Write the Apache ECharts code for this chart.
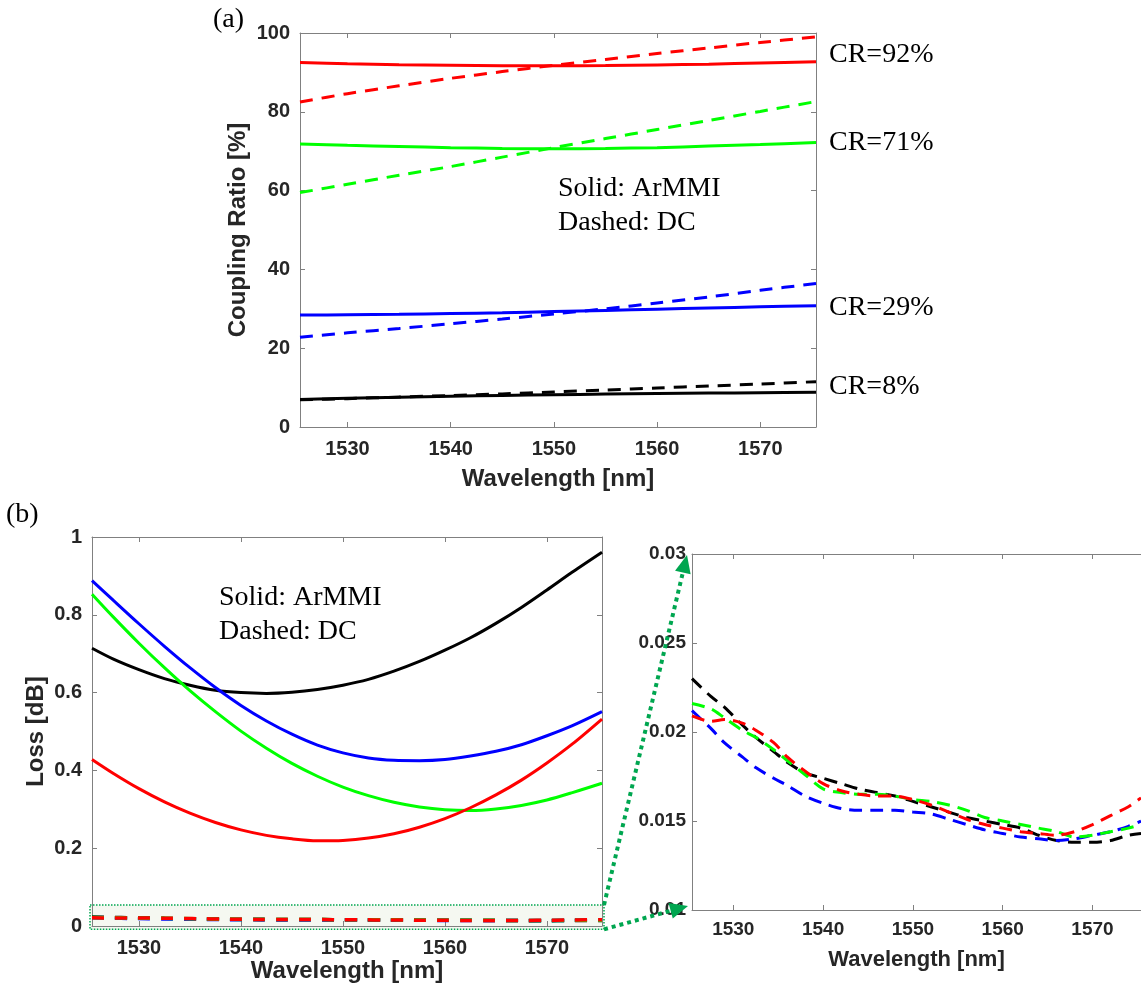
<!DOCTYPE html>
<html>
<head>
<meta charset="utf-8">
<script src="https://cdn.jsdelivr.net/npm/echarts@6/dist/echarts.min.js"></script>
<style>
html,body{margin:0;padding:0;background:#fff;}
#chart{width:1141px;height:993px;}
</style>
</head>
<body>
<div id="chart"></div>
<script>
// ---------- Panel (a): coupling ratio ----------
const wlA = [1525.4, 1530, 1535, 1540, 1545, 1550, 1555, 1560, 1565, 1570, 1575.4];
const crRedSolid    = [92.5, 92.2, 91.95, 91.8, 91.7, 91.7, 91.75, 91.9, 92.1, 92.4, 92.7];
const crRedDashed   = [82.5, 84.6, 86.6, 88.5, 90.2, 91.8, 93.3, 94.8, 96.2, 97.6, 99.0];
const crGreenSolid  = [71.8, 71.5, 71.2, 70.9, 70.7, 70.6, 70.7, 70.9, 71.3, 71.7, 72.2];
const crGreenDashed = [59.5, 61.6, 63.9, 66.1, 68.5, 70.9, 73.2, 75.5, 77.8, 80.1, 82.6];
const crBlueSolid   = [28.4, 28.5, 28.6, 28.8, 29.0, 29.3, 29.6, 29.9, 30.2, 30.5, 30.8];
const crBlueDashed  = [22.8, 23.9, 25.0, 26.2, 27.4, 28.7, 30.0, 31.5, 33.0, 34.7, 36.4];
const crBlackSolid  = [7.0, 7.3, 7.55, 7.8, 8.0, 8.2, 8.35, 8.5, 8.6, 8.7, 8.8];
const crBlackDashed = [6.9, 7.2, 7.6, 8.0, 8.4, 8.9, 9.4, 9.9, 10.4, 10.9, 11.5];

// ---------- Panel (b): loss, solid (ArMMI) ----------
const wlB = [1525.4, 1527.5, 1530, 1532.5, 1535, 1537.5, 1540, 1542.5, 1545, 1547.5, 1550,
             1552.5, 1555, 1557.5, 1560, 1562.5, 1565, 1567.5, 1570, 1572.5, 1575.4];
const lossBlack = [0.714, 0.686, 0.659, 0.636, 0.619, 0.606, 0.600, 0.598, 0.601, 0.608, 0.619,
                   0.634, 0.655, 0.680, 0.709, 0.741, 0.778, 0.819, 0.864, 0.910, 0.961];
const lossBlue  = [0.888, 0.837, 0.777, 0.719, 0.664, 0.613, 0.567, 0.527, 0.493, 0.465, 0.445,
                   0.432, 0.426, 0.425, 0.428, 0.437, 0.449, 0.466, 0.489, 0.515, 0.551];
const lossGreen = [0.853, 0.794, 0.727, 0.664, 0.605, 0.551, 0.501, 0.457, 0.418, 0.385, 0.357,
                   0.335, 0.318, 0.306, 0.299, 0.297, 0.301, 0.310, 0.324, 0.343, 0.367];
const lossRed   = [0.428, 0.392, 0.353, 0.319, 0.290, 0.266, 0.247, 0.233, 0.224, 0.219, 0.220,
                   0.226, 0.237, 0.254, 0.276, 0.304, 0.337, 0.375, 0.419, 0.468, 0.532];

// ---------- Loss, dashed (DC) ----------
const wlC = [1525.4, 1527.5, 1529, 1531, 1532.5, 1534.5, 1536, 1538, 1540, 1542, 1544, 1546, 1548,
             1550, 1552, 1554, 1556, 1558, 1560, 1562, 1564, 1566, 1568, 1570, 1572, 1574, 1575.4];
const dcBlack = [0.0230, 0.0220, 0.0214, 0.0204, 0.0197, 0.0189, 0.0183, 0.0177, 0.0174, 0.0171, 0.0168,
                 0.0166, 0.0164, 0.0161, 0.0158, 0.0155, 0.0152, 0.0150, 0.0148, 0.0146, 0.0142,
                 0.0139, 0.0138, 0.0138, 0.0139, 0.0142, 0.0143];
const dcBlue  = [0.0212, 0.0202, 0.0194, 0.0186, 0.0180, 0.0174, 0.0170, 0.0164, 0.0160, 0.0157, 0.0156,
                 0.0156, 0.0156, 0.0155, 0.0154, 0.0151, 0.0148, 0.0145, 0.0143, 0.0141, 0.0140,
                 0.0139, 0.0140, 0.0142, 0.0144, 0.0147, 0.0150];
const dcGreen = [0.0216, 0.0213, 0.0208, 0.0201, 0.0197, 0.0190, 0.0184, 0.0176, 0.0168, 0.0166, 0.0165,
                 0.0165, 0.0164, 0.0162, 0.0161, 0.0159, 0.0156, 0.0152, 0.0150, 0.0148, 0.0146,
                 0.0144, 0.0141, 0.0142, 0.0144, 0.0146, 0.0148];
const dcRed   = [0.0209, 0.0206, 0.0207, 0.0205, 0.0201, 0.0194, 0.0186, 0.0178, 0.0171, 0.0167, 0.0165,
                 0.0164, 0.0164, 0.0162, 0.0159, 0.0155, 0.0151, 0.0148, 0.0146, 0.0144, 0.0143,
                 0.0142, 0.0144, 0.0148, 0.0153, 0.0158, 0.0163];

const xTicks = [1530, 1540, 1550, 1560, 1570];
const xMin = 1525.4, xMax = 1575.4;

const RED = '#ff0000', GREEN = '#00ff00', BLUE = '#0000ff', BLACK = '#000000';
const AXC = '#808080', TXT = '#262626';
const SANS = '"Liberation Sans", Arial, sans-serif';
const SERIF = '"Liberation Serif", "Times New Roman", serif';

function pairs(xs, ys) { return xs.map((x, i) => [x, ys[i]]); }
function plain(v) { return String(Math.round(v * 100000) / 100000); }

function xAx(grid, pos, showLabel, fs, margin, name, gap, nameFs) {
  return {
    type: 'value', gridIndex: grid, position: pos, min: xMin, max: xMax,
    axisLine: { show: true, onZero: false, lineStyle: { color: AXC, width: 1 } },
    axisTick: { show: true, inside: true, length: 5, customValues: xTicks, lineStyle: { color: AXC } },
    axisLabel: { show: showLabel, customValues: xTicks, formatter: plain, color: TXT, fontWeight: 'bold', fontFamily: SANS, fontSize: fs, margin: margin },
    splitLine: { show: false },
    name: name || '', nameLocation: 'middle', nameGap: gap || 0,
    nameTextStyle: { color: TXT, fontWeight: 'bold', fontFamily: SANS, fontSize: nameFs || 24 }
  };
}
function yAx(grid, pos, showLabel, min, max, interval, fs, margin, name, gap) {
  return {
    type: 'value', gridIndex: grid, position: pos, min: min, max: max, interval: interval,
    axisLine: { show: true, onZero: false, lineStyle: { color: AXC, width: 1 } },
    axisTick: { show: true, inside: true, length: 5, lineStyle: { color: AXC } },
    axisLabel: { show: showLabel, formatter: plain, color: TXT, fontWeight: 'bold', fontFamily: SANS, fontSize: fs, margin: margin },
    splitLine: { show: false },
    name: name || '', nameLocation: 'middle', nameGap: gap || 0,
    nameTextStyle: { color: TXT, fontWeight: 'bold', fontFamily: SANS, fontSize: 24 }
  };
}
function line(xi, yi, xs, ys, color, dashed, width, dash, z) {
  return {
    type: 'line', xAxisIndex: xi, yAxisIndex: yi, data: pairs(xs, ys),
    showSymbol: false, symbol: 'none', smooth: 0.3, z: z || 3,
    lineStyle: { color: color, width: width, type: dashed ? dash : 'solid', cap: 'butt' },
    silent: true
  };
}

const chart = echarts.init(document.getElementById('chart'), null, { renderer: 'canvas' });

const dashA = [13, 9], dashB = [12, 11], dashC = [13, 8];

const option = {
  animation: false,
  backgroundColor: '#ffffff',
  grid: [
    { left: 300, top: 33, width: 516, height: 394 },
    { left: 92, top: 537, width: 510, height: 389 },
    { left: 692, top: 554, right: -6, height: 356 }
  ],
  xAxis: [
    xAx(0, 'bottom', true, 20, 12, 'Wavelength [nm]', 40, 24),
    xAx(0, 'top', false, 20, 12),
    xAx(1, 'bottom', true, 20, 12, 'Wavelength [nm]', 32, 24),
    xAx(1, 'top', false, 20, 12),
    xAx(2, 'bottom', true, 19, 10, 'Wavelength [nm]', 39, 22),
    xAx(2, 'top', false, 19, 10)
  ],
  yAxis: [
    yAx(0, 'left', true, 0, 100, 20, 20, 10, 'Coupling Ratio [%]', 50),
    yAx(0, 'right', false, 0, 100, 20, 20, 10),
    yAx(1, 'left', true, 0, 1, 0.2, 20, 10, 'Loss [dB]', 44),
    yAx(1, 'right', false, 0, 1, 0.2, 20, 10),
    yAx(2, 'left', true, 0.01, 0.03, 0.005, 19, 6)
  ],
  series: [
    // panel (a)
    line(0, 0, wlA, crBlackDashed, BLACK, true, 3, dashA),
    line(0, 0, wlA, crBlackSolid, BLACK, false, 3),
    line(0, 0, wlA, crBlueDashed, BLUE, true, 3, dashA),
    line(0, 0, wlA, crBlueSolid, BLUE, false, 3),
    line(0, 0, wlA, crGreenDashed, GREEN, true, 3, dashA),
    line(0, 0, wlA, crGreenSolid, GREEN, false, 3),
    line(0, 0, wlA, crRedDashed, RED, true, 3, dashA),
    line(0, 0, wlA, crRedSolid, RED, false, 3),
    // panel (b) solid
    line(2, 2, wlB, lossBlack, BLACK, false, 3),
    line(2, 2, wlB, lossBlue, BLUE, false, 3),
    line(2, 2, wlB, lossGreen, GREEN, false, 3),
    line(2, 2, wlB, lossRed, RED, false, 3),
    // panel (b) dashed
    line(2, 2, wlC, dcBlack, BLACK, true, 3.5, dashB),
    line(2, 2, wlC, dcBlue, BLUE, true, 3.5, dashB),
    line(2, 2, wlC, dcGreen, GREEN, true, 3.5, dashB),
    line(2, 2, wlC, dcRed, RED, true, 3.5, dashB),
    // zoom panel dashed
    line(4, 4, wlC, dcBlack, BLACK, true, 3, dashC),
    line(4, 4, wlC, dcBlue, BLUE, true, 3, dashC),
    line(4, 4, wlC, dcGreen, GREEN, true, 3, dashC),
    line(4, 4, wlC, dcRed, RED, true, 3, dashC)
  ]
};
chart.setOption(option);

// ---------- annotations ----------
const AR = '#00a650';
function px(xi, yi, v) { return chart.convertToPixel({ xAxisIndex: xi, yAxisIndex: yi }, v); }
const rTL = px(2, 2, [xMin, 0.054]);
const rBR = px(2, 2, [xMax, -0.0085]);
const rx0 = rTL[0] - 2, ry0 = rTL[1], rx1 = rBR[0] + 2, ry1 = rBR[1];
const zTop = px(4, 4, [xMin, 0.03]);
const zBot = px(4, 4, [xMin, 0.01]);

function arrow(from, tip) {
  const dx = tip[0] - from[0], dy = tip[1] - from[1];
  const L = Math.sqrt(dx * dx + dy * dy);
  const ux = dx / L, uy = dy / L, nx = -uy, ny = ux;
  const hl = 18, hw = 8;
  const bx = tip[0] - ux * hl, by = tip[1] - uy * hl;
  return [
    { type: 'line', z: 10, shape: { x1: from[0], y1: from[1], x2: bx, y2: by },
      style: { stroke: AR, lineWidth: 4, lineDash: [4, 4] } },
    { type: 'polygon', z: 10, shape: { points: [[tip[0], tip[1]], [bx + nx * hw, by + ny * hw], [bx - nx * hw, by - ny * hw]] },
      style: { fill: AR } }
  ];
}

function txt(s, x, y, size, font, align) {
  return { type: 'text', z: 20, style: { text: s, x: x, y: y, fontSize: size, fontFamily: font || SERIF,
           fill: '#000', align: align || 'left', verticalAlign: 'middle' } };
}

const graphics = [
  { type: 'rect', z: -1, shape: { x: rx0, y: ry0, width: rx1 - rx0, height: ry1 - ry0 },
    style: { fill: 'rgba(236,242,230,0.55)', stroke: AR, lineWidth: 1.5, lineDash: [1.5, 1.5] } },
  ...arrow([rx1, ry0], [zTop[0] - 5, zTop[1] + 1]),
  ...arrow([rx1, ry1], [zBot[0] - 4, zBot[1] - 4]),
  txt('(a)', 213, 20, 28),
  txt('(b)', 6, 515, 28),
  txt('CR=92%', 829, 55, 28),
  txt('CR=71%', 829, 143, 28),
  txt('CR=29%', 829, 308, 28),
  txt('CR=8%', 829, 387, 28),
  txt('Solid: ArMMI', 558, 189, 28),
  txt('Dashed: DC', 558, 223, 28),
  txt('Solid: ArMMI', 219, 598, 28),
  txt('Dashed: DC', 219, 632, 28)
];
chart.setOption({ graphic: graphics });
</script>
</body>
</html>
